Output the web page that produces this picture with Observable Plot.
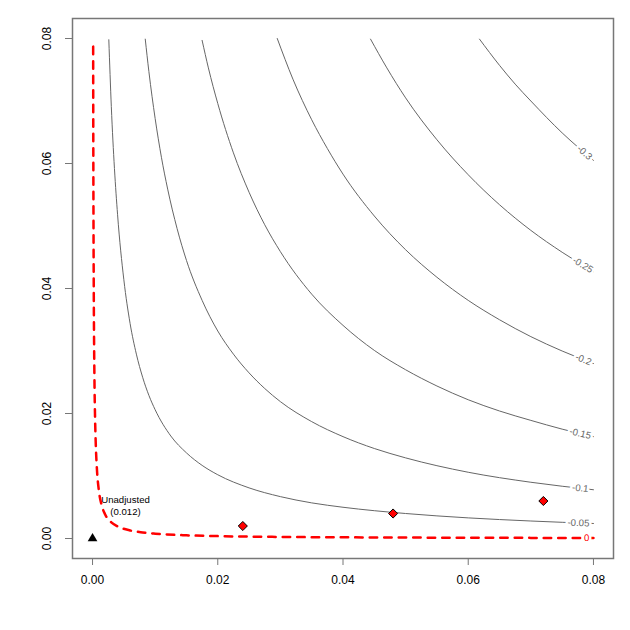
<!DOCTYPE html>
<html><head><meta charset="utf-8">
<script src="https://cdn.jsdelivr.net/npm/d3@7"></script>
<script src="https://cdn.jsdelivr.net/npm/@observablehq/plot@0.6"></script>
<style>body{margin:0;background:#fff} svg{display:block}</style>
</head><body><div id="chart"></div>
<script>
// ---- data ----
const xTicks = [0, 0.02, 0.04, 0.06, 0.08];
const yTicks = [0, 0.02, 0.04, 0.06, 0.08];

const levelNames = ["0", "-0.05", "-0.1", "-0.15", "-0.2", "-0.25", "-0.3"];

const contour0 = [[0.0001,0.0787],[0.00012,0.0649],[0.00015,0.0519],[0.0002,0.0389],[0.0003,0.0260],[0.0004,0.0195],[0.0005,0.0156],[0.0007,0.0111],[0.001,0.00778],[0.0015,0.00518],[0.002,0.00388],[0.003,0.00259],[0.004,0.00194],[0.006,0.00129],[0.008,0.00097],[0.01,0.00077],[0.015,0.00051],[0.02,0.00038],[0.03,0.00025],[0.04,0.00019],[0.05,0.00015],[0.06,0.00012],[0.07,0.0001],[0.08,0.00009]];
const contourM005 = [[0.0026,0.0798],[0.003,0.0691],[0.0035,0.0592],[0.004,0.0518],[0.005,0.0414],[0.006,0.0344],[0.007,0.0295],[0.008,0.0258],[0.009,0.0229],[0.01,0.0206],[0.0125,0.0164],[0.015,0.0137],[0.0175,0.0117],[0.02,0.0102],[0.025,0.0081],[0.03,0.0067],[0.035,0.0057],[0.04,0.0050],[0.05,0.0040],[0.06,0.0033],[0.07,0.0028],[0.08,0.0024]];
const contourM010 = [[0.00842,0.0799],[0.009,0.0747],[0.01,0.0672],[0.011,0.0610],[0.012,0.0559],[0.0135,0.0496],[0.015,0.0445],[0.0175,0.0381],[0.02,0.0332],[0.0225,0.0295],[0.025,0.0265],[0.0275,0.0240],[0.03,0.0219],[0.035,0.0187],[0.04,0.0163],[0.045,0.0144],[0.05,0.0129],[0.06,0.0106],[0.07,0.0090],[0.08,0.0078]];
const contourM015 = [[0.0175,0.0797],[0.0185,0.0753],[0.02,0.0696],[0.0225,0.0617],[0.025,0.0554],[0.0275,0.0502],[0.03,0.0459],[0.035,0.0391],[0.04,0.0341],[0.045,0.0301],[0.05,0.0270],[0.055,0.0244],[0.06,0.0222],[0.065,0.0204],[0.07,0.0189],[0.075,0.0175],[0.08,0.0163]];
const contourM020 = [[0.0295,0.0800],[0.032,0.0735],[0.035,0.0670],[0.0375,0.0624],[0.04,0.0583],[0.045,0.0516],[0.05,0.0462],[0.055,0.0418],[0.06,0.0381],[0.065,0.0350],[0.07,0.0323],[0.075,0.0300],[0.08,0.0280]];
const contourM025 = [[0.0444,0.0799],[0.047,0.0753],[0.05,0.0705],[0.055,0.0638],[0.06,0.0582],[0.065,0.0534],[0.07,0.0493],[0.075,0.0458],[0.08,0.0427]];
const contourM030 = [[0.0618,0.0799],[0.065,0.0757],[0.0675,0.0727],[0.07,0.0700],[0.075,0.0649],[0.08,0.0605]];

const contours = [contour0, contourM005, contourM010, contourM015, contourM020, contourM025, contourM030];
const labelX = [0.0789, 0.0776, 0.0779, 0.0779, 0.0784, 0.0783, 0.0786];

const boundX = [0.024, 0.048, 0.072];
const boundY = [0.002, 0.004, 0.006];
const unadjX = [0];
const unadjY = [0];
const unadjLabel = "Unadjusted\n(0.012)";

// ---- build ----
const dom = [-0.0032, 0.0832];
const W = 630, H = 630, mL = 72, mR = 17, mT = 18, mB = 72;
const xs = Plot.scale({x: {domain: dom, range: [mL, W - mR]}});
const ys = Plot.scale({y: {domain: dom, range: [H - mB, mT]}});

const rows = contours.flatMap((pts, i) => pts.map(([x, y]) => ({x, y, level: levelNames[i]})));
const redRows = rows.filter(d => d.level === "0");
const grayRows = rows.filter(d => d.level !== "0");

const labels = contours.map((pts, i) => {
  const lx = labelX[i];
  let k = pts.findIndex((p, j) => j > 0 && p[0] >= lx);
  if (k < 1) k = pts.length - 1;
  const [x0, y0] = pts[k - 1], [x1, y1] = pts[k];
  const t = (lx - x0) / (x1 - x0);
  const ly = y0 + t * (y1 - y0);
  const ang = Math.atan2(ys.apply(y1) - ys.apply(y0), xs.apply(x1) - xs.apply(x0)) * 180 / Math.PI;
  return {x: lx, y: ly, text: levelNames[i], angle: ang, red: levelNames[i] === "0"};
});

const bounds = boundX.map((x, i) => ({x, y: boundY[i]}));
const unadj = unadjX.map((x, i) => ({x, y: unadjY[i]}));
const fmt = d3.format(".2f");

const chart = Plot.plot({
  width: W, height: H,
  marginLeft: mL, marginRight: mR, marginTop: mT, marginBottom: mB,
  x: {domain: dom},
  y: {domain: dom},
  style: {fontFamily: "'Liberation Sans', Arial, Helvetica, sans-serif", background: "white", color: "black"},
  marks: [
    Plot.line(grayRows, {x: "x", y: "y", z: "level", stroke: "#666", strokeWidth: 1, curve: "monotone-x"}),
    Plot.line(redRows, {x: "x", y: "y", stroke: "#ff0000", strokeWidth: 2.5, strokeDasharray: "7.5,7", curve: "monotone-x"}),
    Plot.text(labels, {x: "x", y: "y", text: "text", rotate: "angle", fontSize: 9.6, fill: "white", stroke: "white", strokeWidth: 5, textAnchor: "middle"}),
    Plot.text(labels, {x: "x", y: "y", text: "text", rotate: "angle", fontSize: 9.6, fill: d => d.red ? "#ff0000" : "#666", textAnchor: "middle"}),
    Plot.dot(bounds, {x: "x", y: "y", symbol: "diamond2", r: 4.1, fill: "#ff0000", stroke: "black", strokeWidth: 1}),
    Plot.dot(unadj, {x: "x", y: "y", symbol: "triangle", r: 3.6, fill: "black", stroke: "none"}),
    Plot.text(unadj, {x: "x", y: "y", text: () => unadjLabel, dx: 33, dy: -33, fontSize: 9.6, lineHeight: 1.2, textAnchor: "middle", fill: "black"}),
    Plot.frame({stroke: "#777", strokeWidth: 1.5}),
    Plot.axisX({ticks: xTicks, tickSize: 7, tickPadding: 10, tickFormat: fmt, stroke: "#777", fill: "black", fontSize: 12, label: null}),
    Plot.axisY({ticks: yTicks, tickSize: 7, tickFormat: () => "", stroke: "#777", label: null}),
    Plot.text(yTicks, {y: d => d, frameAnchor: "left", dx: -25, rotate: -90, text: d => fmt(d), fontSize: 12, fill: "black", textAnchor: "middle"})
  ]
});
document.getElementById("chart").appendChild(chart);
</script>
</body></html>
